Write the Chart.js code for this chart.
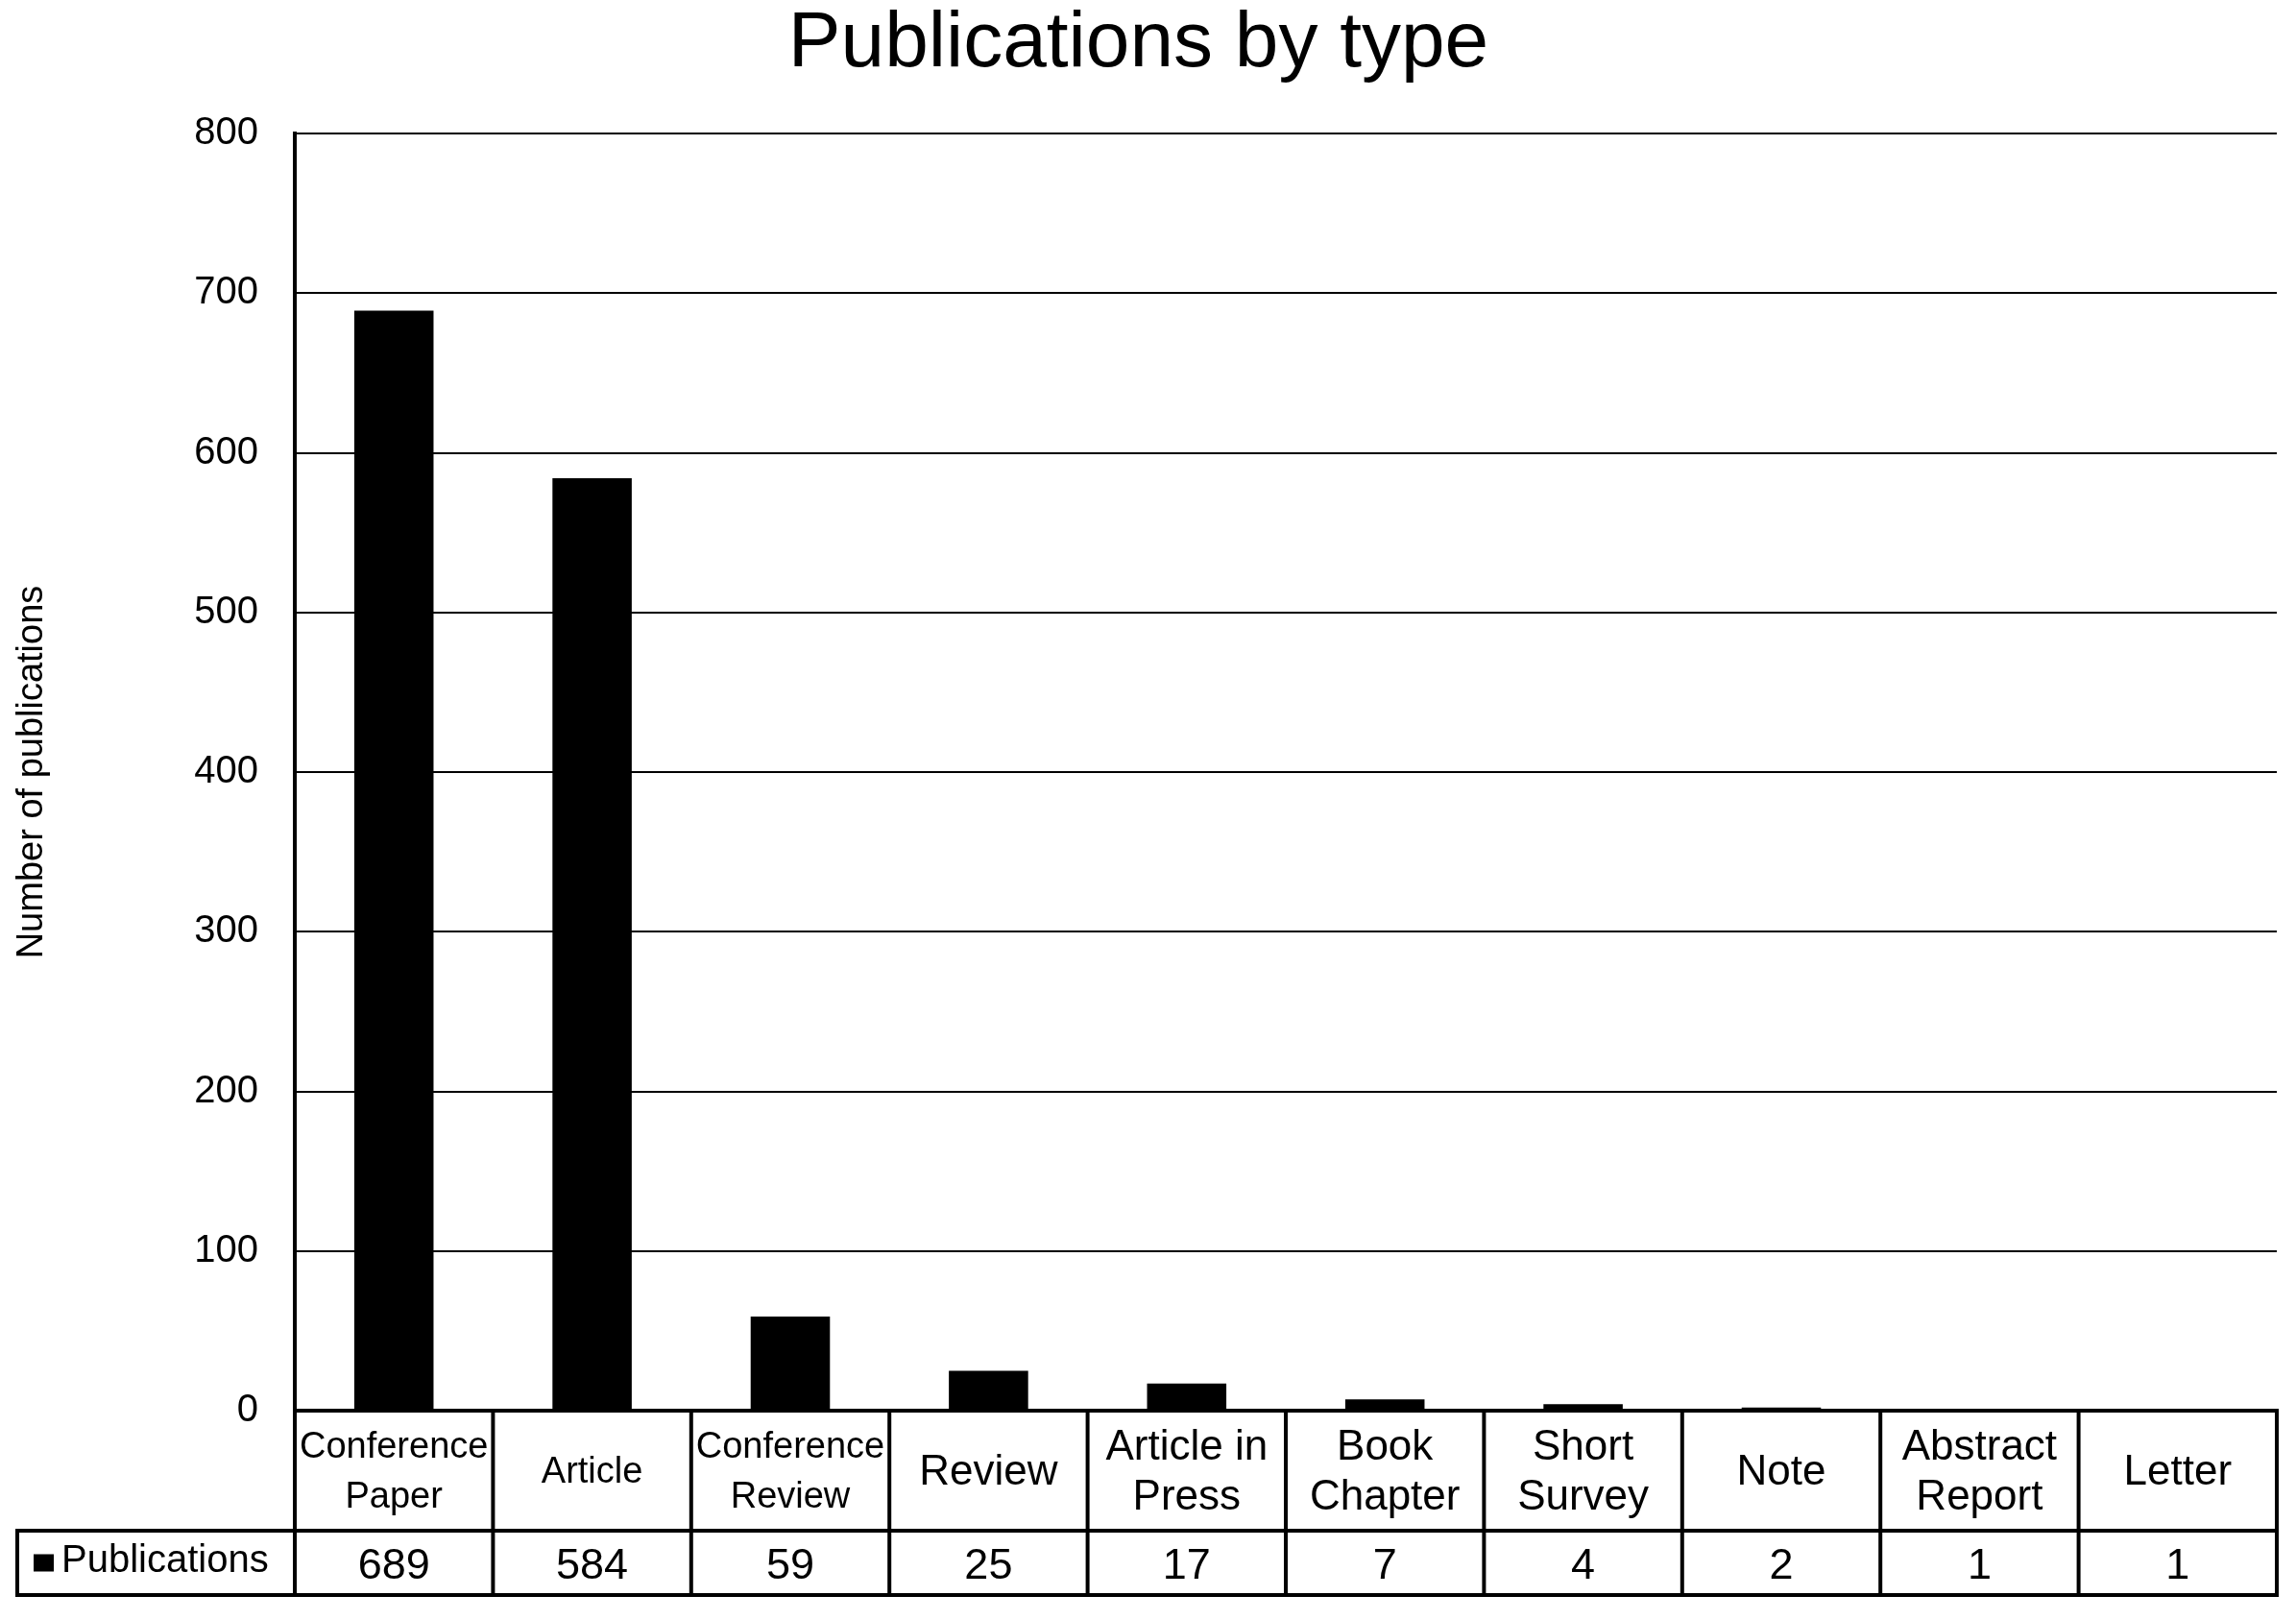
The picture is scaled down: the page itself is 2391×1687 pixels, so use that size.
<!DOCTYPE html>
<html><head><meta charset="utf-8">
<script src="https://cdn.jsdelivr.net/npm/chart.js@4/dist/chart.umd.min.js"></script>
<style>html,body{margin:0;padding:0;background:#fff;}canvas{display:block;}</style>
</head><body>
<canvas id="c" width="2391" height="1687"></canvas>
<script>
// ---- data ----
const categories = [["Conference","Paper"],["Article"],["Conference","Review"],["Review"],["Article in","Press"],["Book","Chapter"],["Short","Survey"],["Note"],["Abstract","Report"],["Letter"]];
const publications = [689, 584, 59, 25, 17, 7, 4, 2, 1, 1];
const seriesName = "Publications";
const yTickValues = [0, 100, 200, 300, 400, 500, 600, 700, 800];
const chartTitle = "Publications by type";
const yAxisTitle = "Number of publications";

// ---- style (not data) ----
const FONT = "'Liberation Sans', Arial, Helvetica, sans-serif";
const labelFontSizes = [38, 38, 38, 44, 44, 44, 44, 44, 44, 44];

const tablePlugin = {
  id: 'dataTable',
  afterDraw(chart) {
    const ctx = chart.ctx, a = chart.chartArea, x = chart.scales.x;
    const n = categories.length;
    const half = (x.getPixelForValue(1) - x.getPixelForValue(0)) / 2;
    const top = a.bottom, mid = a.bottom + 125, bot = a.bottom + 192;
    const headLeft = 18;
    ctx.save();
    ctx.strokeStyle = '#000';
    ctx.lineWidth = 4;
    const line = (x1, y1, x2, y2) => { ctx.beginPath(); ctx.moveTo(x1, y1); ctx.lineTo(x2, y2); ctx.stroke(); };
    line(a.left - 2, top, a.right + 2, top);
    line(headLeft - 2, mid, a.right + 2, mid);
    line(headLeft - 2, bot, a.right + 2, bot);
    line(headLeft, mid, headLeft, bot);
    for (let i = 0; i <= n; i++) {
      const xb = i < n ? x.getPixelForValue(i) - half : x.getPixelForValue(n - 1) + half;
      line(xb, top, xb, bot);
    }
    ctx.fillStyle = '#000';
    ctx.textAlign = 'center';
    ctx.textBaseline = 'middle';
    const rowC = (top + mid) / 2, valC = (mid + bot) / 2;
    for (let i = 0; i < n; i++) {
      const cx = x.getPixelForValue(i);
      const lines = categories[i];
      ctx.font = labelFontSizes[i] + 'px ' + FONT;
      const gap = 52;
      lines.forEach((t, k) => {
        const y = rowC + 2 + (k - (lines.length - 1) / 2) * gap;
        ctx.fillText(t, cx, y, 2 * half - 8);
      });
      ctx.font = '45px ' + FONT;
      ctx.fillText(String(publications[i]), cx, valC + 4);
    }
    // legend key cell
    ctx.fillRect(35, valC - 9, 21, 18);
    ctx.textAlign = 'left';
    ctx.font = '40px ' + FONT;
    ctx.fillText(seriesName, 64, valC - 2);
    ctx.restore();
  }
};

new Chart(document.getElementById('c'), {
  type: 'bar',
  data: {
    labels: categories,
    datasets: [{
      label: seriesName,
      data: publications,
      backgroundColor: '#000',
      borderWidth: 0,
      barPercentage: 0.4,
      categoryPercentage: 1.0
    }]
  },
  options: {
    responsive: false,
    animation: false,
    devicePixelRatio: 1,
    layout: { padding: { left: 0, right: 20, top: 0, bottom: 218 } },
    plugins: {
      legend: { display: false },
      tooltip: { enabled: false },
      title: {
        display: true,
        text: chartTitle,
        color: '#000',
        font: { family: FONT, size: 82, weight: 'normal', lineHeight: 1 },
        padding: { top: 5, bottom: 52 }
      }
    },
    scales: {
      x: {
        display: false,
        offset: true
      },
      y: {
        min: 0,
        max: 800,
        afterBuildTicks(scale) { scale.ticks = yTickValues.map(v => ({ value: v })); },
        afterFit(scale) { scale.width = 307; },
        ticks: {
          color: '#000',
          padding: 38,
          font: { family: FONT, size: 40 }
        },
        grid: { color: '#000', lineWidth: 2, drawTicks: false },
        border: { display: true, color: '#000', width: 4 },
        title: {
          display: true,
          text: yAxisTitle,
          color: '#000',
          font: { family: FONT, size: 38 },
          padding: { top: 11, bottom: 0 }
        }
      }
    }
  },
  plugins: [tablePlugin]
});
</script>
</body></html>
